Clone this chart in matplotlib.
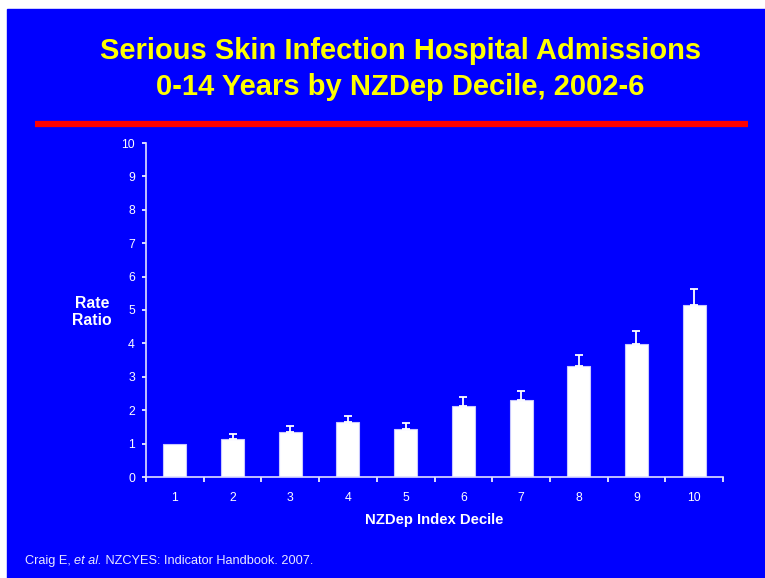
import matplotlib
matplotlib.use('Agg')
import matplotlib.pyplot as plt
from matplotlib.patches import Rectangle
from matplotlib.lines import Line2D

plt.rcParams['font.family'] = ['Liberation Sans', 'DejaVu Sans']

# data
deciles = [1, 2, 3, 4, 5, 6, 7, 8, 9, 10]
rate_ratio = [1.0, 1.13, 1.36, 1.65, 1.43, 2.14, 2.31, 3.31, 3.98, 5.14]
upper_ci = [None, 1.29, 1.54, 1.84, 1.61, 2.39, 2.56, 3.64, 4.37, 5.64]
tick_labels = [str(d) for d in deciles]

blue = '#0000FF'

fig = plt.figure(figsize=(7.65, 5.78), dpi=100, facecolor='white')

# slide background
fig.patches.append(Rectangle((7 / 765, 0), 1 - 7 / 765, 1 - 9 / 578,
                             transform=fig.transFigure, color=blue, zorder=-10))

# title + red rule
fig.text(0.523, 1 - 51 / 578, 'Serious Skin Infection Hospital Admissions',
         ha='center', va='center', color='#FFFF00', fontsize=21,
         fontweight='bold')
fig.text(0.523, 1 - 87 / 578, '0-14 Years by NZDep Decile, 2002-6',
         ha='center', va='center', color='#FFFF00', fontsize=21,
         fontweight='bold')
fig.lines.append(Line2D([35 / 765, 748 / 765], [1 - 124 / 578, 1 - 124 / 578],
                        transform=fig.transFigure, color='#FF0000', lw=4.5,
                        solid_capstyle='butt'))

ax = fig.add_axes([146 / 765, 101 / 578, 577 / 765, 334 / 578])
ax.set_facecolor(blue)

ax.bar(deciles, rate_ratio, width=0.4, color='white', edgecolor='#C8C8FF',
       linewidth=0.8, zorder=2)

# only the upper half of the confidence interval is drawn; decile 1 is the reference
ex = [d for d, u in zip(deciles, upper_ci) if u is not None]
ey = [r for r, u in zip(rate_ratio, upper_ci) if u is not None]
eu = [u - r for r, u in zip(rate_ratio, upper_ci) if u is not None]
ax.errorbar(ex, ey, yerr=[[0] * len(eu), eu], fmt='none', ecolor='white',
            elinewidth=1.3, capsize=3, capthick=1.3, zorder=3)

ax.set_xlim(0.5, 10.5)
ax.set_ylim(0, 10)
ax.set_yticks(range(0, 11))
ax.set_xticks(deciles)
ax.set_xticklabels(tick_labels)
ax.set_xticks([x + 0.5 for x in range(0, 11)], minor=True)

for s in ['top', 'right']:
    ax.spines[s].set_visible(False)
for s in ['left', 'bottom']:
    ax.spines[s].set_color('#E0E0FF')
    ax.spines[s].set_linewidth(1.2)

ax.tick_params(axis='y', colors='white', labelsize=8.8, length=3, width=1.2,
               direction='out', pad=5, labelcolor='white')
ax.tick_params(axis='x', which='major', length=0, pad=11, labelsize=8.8,
               labelcolor='white')
ax.tick_params(axis='x', which='minor', length=3.5, width=1.2, color='white',
               direction='out')

fig.text(92 / 765, 1 - 312 / 578, 'Rate\nRatio', ha='center', va='center',
         color='white', fontsize=11.3, fontweight='bold', linespacing=1.15)
fig.text(434 / 765, 1 - 520 / 578, 'NZDep Index Decile', ha='center',
         va='center', color='white', fontsize=10.7, fontweight='bold')

# footnote, pieces chained one after another
renderer = fig.canvas.get_renderer()
x = 25 / 765
y = 1 - 561 / 578
for part, style in [('Craig E, ', 'normal'), ('et al.', 'italic'),
                    (' NZCYES: Indicator Handbook. 2007.', 'normal')]:
    t = fig.text(x, y, part, ha='left', va='center', color='#E8E8FF',
                 fontsize=9.2, style=style)
    bb = t.get_window_extent(renderer)
    x = bb.x1 / fig.bbox.width

fig.savefig('out.png', dpi=100, facecolor=fig.get_facecolor())
